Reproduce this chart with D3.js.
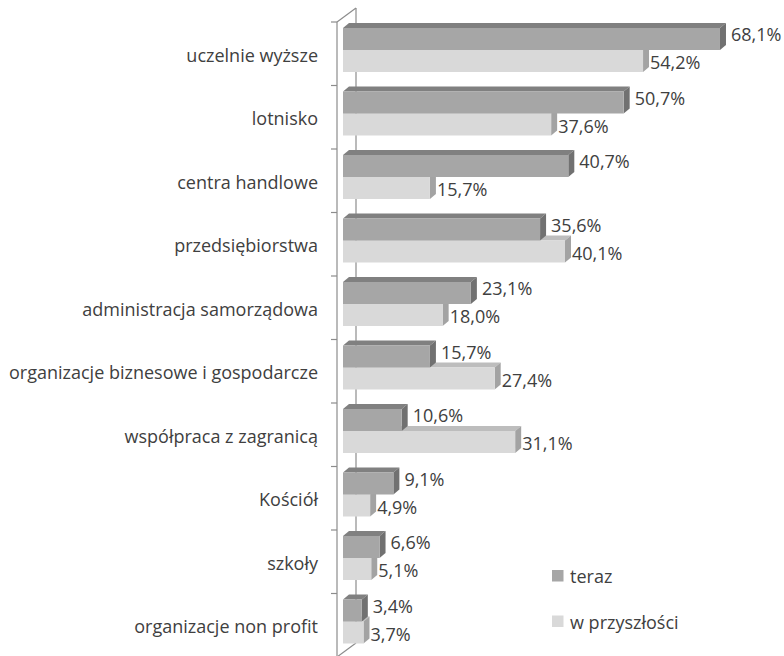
<!DOCTYPE html>
<html>
<head>
<meta charset="utf-8">
<script src="https://cdn.jsdelivr.net/npm/d3@7"></script>
<style>
  html, body { margin: 0; padding: 0; background: #fff; }
  svg { display: block; }
  text { font-family: "Open Sans", sans-serif; fill: #404040; }
</style>
</head>
<body>
<svg id="chart" width="784" height="656"></svg>
<script>
const categories = [
  "uczelnie wyższe",
  "lotnisko",
  "centra handlowe",
  "przedsiębiorstwa",
  "administracja samorządowa",
  "organizacje biznesowe i gospodarcze",
  "współpraca z zagranicą",
  "Kościół",
  "szkoły",
  "organizacje non profit"
];
const seriesNames = ["teraz", "w przyszłości"];
const teraz = [68.1, 50.7, 40.7, 35.6, 23.1, 15.7, 10.6, 9.1, 6.6, 3.4];
const przyszlosc = [54.2, 37.6, 15.7, 40.1, 18.0, 27.4, 31.1, 4.9, 5.1, 3.7];

const svg = d3.select("#chart");

const x = d3.scaleLinear().domain([0, 70]).range([343, 730.5]);
const y = d3.scaleBand().domain(categories).range([22, 657]).padding(0);

const axisX = 337, backX = 356, dyWall = 14;
const depthX = 6, depthY = 5;
const barH = 22;
const FS = 18;

const locale = d3.formatLocale({decimal: ",", thousands: " ", grouping: [3], currency: ["", " zł"]});
const fmt = v => locale.format(".1f")(v) + "%";

const colors = {
  teraz: {front: "#a6a6a6", top: "#808080", side: "#717171"},
  fut:   {front: "#d9d9d9", top: "#bdbdbd", side: "#a3a3a3"}
};
const lineColor = "#8c8c8c";

// back wall line & diagonals
const gAxis = svg.append("g");
gAxis.append("line").attr("x1", backX).attr("x2", backX)
  .attr("y1", y.range()[0] - dyWall).attr("y2", y.range()[1] - dyWall)
  .attr("stroke", lineColor).attr("stroke-width", 1.2);
[y.range()[0], y.range()[1]].forEach(v => {
  gAxis.append("line").attr("x1", axisX).attr("y1", v)
    .attr("x2", backX).attr("y2", v - dyWall)
    .attr("stroke", lineColor).attr("stroke-width", 1.2);
});

function drawBars(values, offset, c, cls) {
  const g = svg.append("g").attr("class", cls);
  const items = g.selectAll("g").data(values.map((v, i) => ({v, cat: categories[i]}))).join("g");
  items.append("path")
    .attr("d", d => {
      const x0 = x(0), x1 = x(d.v), yt = y(d.cat) + offset;
      return `M${x0},${yt}L${x0 + depthX},${yt - depthY}L${x1 + depthX},${yt - depthY}L${x1},${yt}Z`;
    })
    .attr("fill", c.top);
  items.append("path")
    .attr("d", d => {
      const x1 = x(d.v), yt = y(d.cat) + offset;
      return `M${x1},${yt}L${x1 + depthX},${yt - depthY}L${x1 + depthX},${yt - depthY + barH}L${x1},${yt + barH}Z`;
    })
    .attr("fill", c.side);
  items.append("rect")
    .attr("x", x(0))
    .attr("y", d => y(d.cat) + offset)
    .attr("width", d => x(d.v) - x(0))
    .attr("height", barH)
    .attr("fill", c.front);
  return g;
}

drawBars(przyszlosc, 6 + barH, colors.fut, "fut");
drawBars(teraz, 6, colors.teraz, "teraz");

// front axis line
const gFront = svg.append("g");
gFront.append("line").attr("x1", axisX).attr("x2", axisX)
  .attr("y1", y.range()[0]).attr("y2", y.range()[1])
  .attr("stroke", lineColor).attr("stroke-width", 1.2);
const boundaries = categories.map(c => y(c)).concat([y.range()[1]]);
gFront.selectAll("line.tick").data(boundaries).join("line")
  .attr("class", "tick")
  .attr("x1", axisX - 6).attr("x2", axisX)
  .attr("y1", d => d).attr("y2", d => d)
  .attr("stroke", lineColor).attr("stroke-width", 1.2);

// category labels
svg.append("g").selectAll("text").data(categories).join("text")
  .attr("x", 318)
  .attr("y", d => y(d) + y.bandwidth() / 2 + 1)
  .attr("text-anchor", "end")
  .attr("dominant-baseline", "central")
  .attr("font-size", FS)
  .text(d => d);

// value labels
const vl = svg.append("g").attr("font-size", FS);
vl.selectAll("text.t").data(teraz).join("text")
  .attr("class", "t")
  .attr("x", d => x(d) + depthX + 5)
  .attr("y", (d, i) => y(categories[i]) + 6 + barH / 2 - 5)
  .attr("dominant-baseline", "central")
  .text(fmt);
vl.selectAll("text.f").data(przyszlosc).join("text")
  .attr("class", "f")
  .attr("x", d => x(d) + depthX + 1)
  .attr("y", (d, i) => y(categories[i]) + 6 + barH + barH / 2 + 1)
  .attr("dominant-baseline", "central")
  .text(fmt);

// legend
const legend = svg.append("g").attr("transform", "translate(552,570)");
const lg = legend.selectAll("g").data(seriesNames).join("g")
  .attr("transform", (d, i) => `translate(0,${i * 45.5})`);
lg.append("rect").attr("width", 11.5).attr("height", 11.5)
  .attr("fill", (d, i) => i === 0 ? colors.teraz.front : colors.fut.front);
lg.append("text").attr("x", 18).attr("y", 6).attr("dominant-baseline", "central")
  .attr("font-size", FS).text(d => d);
</script>
</body>
</html>
